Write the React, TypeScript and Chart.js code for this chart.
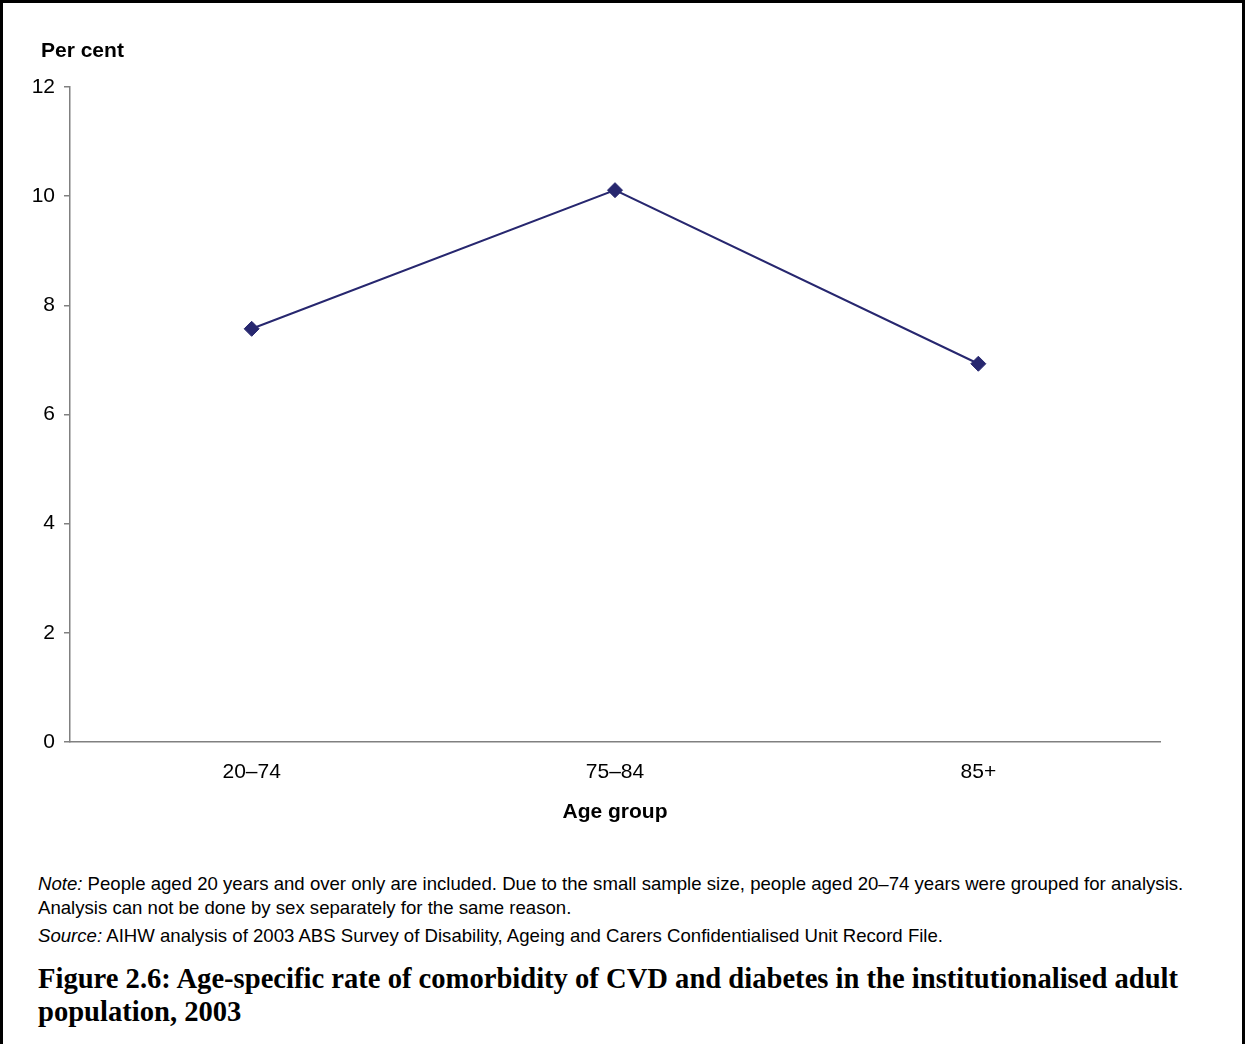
import React, { useEffect, useRef } from "react";
import { Chart, registerables } from "chart.js";

Chart.register(...registerables);

const categories = ["20–74", "75–84", "85+"];
const rates = [7.57, 10.11, 6.93];
const yTicks = [0, 2, 4, 6, 8, 10, 12];

const SANS = "'Liberation Sans', Arial, sans-serif";
const SERIF = "'Liberation Serif', 'Times New Roman', serif";

export default function App() {
  const ref = useRef<HTMLCanvasElement | null>(null);

  useEffect(() => {
    if (!ref.current) return;
    const chart = new Chart(ref.current, {
      type: "line",
      data: {
        labels: categories,
        datasets: [
          {
            data: rates,
            borderColor: "#27276f",
            backgroundColor: "#27276f",
            borderWidth: 2,
            pointStyle: "rectRot",
            pointRadius: 7.5,
            pointBorderWidth: 1,
            pointBackgroundColor: "#27276f",
            pointBorderColor: "#27276f",
            tension: 0,
          },
        ],
      },
      options: {
        responsive: false,
        animation: false,
        plugins: { legend: { display: false }, tooltip: { enabled: false }, title: { display: false } },
        layout: { padding: { left: 0, top: 87, right: 85, bottom: 0 } },
        scales: {
          x: {
            type: "category",
            offset: true,
            grid: { display: false, tickLength: 0, drawTicks: false },
            border: { display: true, color: "#808080", width: 1.5 },
            ticks: { color: "#000", font: { family: SANS, size: 21 }, padding: 18, maxRotation: 0 },
            afterFit: (s: any) => {
              s.height = 108;
            },
          },
          y: {
            min: 0,
            max: 12,
            afterBuildTicks: (s: any) => {
              s.ticks = yTicks.map((v) => ({ value: v }));
            },
            grid: { display: true, drawOnChartArea: false, drawTicks: true, tickLength: 6, color: "#808080", lineWidth: 1.5 },
            border: { display: true, color: "#808080", width: 1.5 },
            ticks: { color: "#000", font: { family: SANS, size: 21 }, padding: 9 },
            afterFit: (s: any) => {
              s.width = 70;
            },
          },
        },
      },
    });
    return () => chart.destroy();
  }, []);

  return (
    <div style={{ position: "absolute", left: 0, top: 0, width: 1245, height: 1044, background: "#fff", overflow: "hidden" }}>
      <canvas ref={ref} width={1245} height={850} style={{ position: "absolute", left: 0, top: 0, width: 1245, height: 850 }} />
      <div style={{ position: "absolute", left: 41, top: 37, fontFamily: SANS, fontWeight: "bold", fontSize: 21, lineHeight: "26px" }}>Per cent</div>
      <div style={{ position: "absolute", left: 415, width: 400, top: 798, textAlign: "center", fontFamily: SANS, fontWeight: "bold", fontSize: 21, lineHeight: "26px" }}>Age group</div>
      <div style={{ position: "absolute", left: 38, top: 872, width: 1200, whiteSpace: "nowrap", fontFamily: SANS, fontSize: 18.6, lineHeight: "24px", color: "#000" }}>
        <div>
          <i>Note:</i> People aged 20 years and over only are included. Due to the small sample size, people aged 20–74 years were grouped for analysis.
        </div>
        <div>Analysis can not be done by sex separately for the same reason.</div>
        <div style={{ marginTop: 4 }}>
          <i>Source:</i> AIHW analysis of 2003 ABS Survey of Disability, Ageing and Carers Confidentialised Unit Record File.
        </div>
      </div>
      <div style={{ position: "absolute", left: 38, top: 962, width: 1200, whiteSpace: "nowrap", fontFamily: SERIF, fontWeight: "bold", fontSize: 28.6, lineHeight: "33px", color: "#000" }}>
        Figure 2.6: Age-specific rate of comorbidity of CVD and diabetes in the institutionalised adult
        <br />
        population, 2003
      </div>
      <div style={{ position: "absolute", left: 0, top: 0, width: 1245, height: 1044, boxSizing: "border-box", borderLeft: "3px solid #000", borderTop: "3px solid #000", borderRight: "3px solid #000", pointerEvents: "none" }} />
    </div>
  );
}
